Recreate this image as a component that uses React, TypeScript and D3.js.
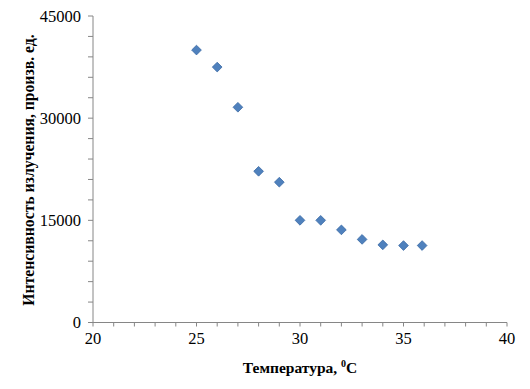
import React from "react";
import * as d3 from "d3";

const temps = [25, 26, 27, 28, 29, 30, 31, 32, 33, 34, 35, 35.9];
const intensity = [40000, 37500, 31600, 22200, 20600, 15000, 15000, 13600, 12200, 11400, 11300, 11300];
const xTicks = [20, 25, 30, 35, 40];
const yTicks = [0, 15000, 30000, 45000];
const xTitle = "Температура, ";
const yTitle = "Интенсивность излучения, произв. ед.";

const W = 530, H = 389;
const x = d3.scaleLinear().domain([20, 40]).range([93, 507]);
const y = d3.scaleLinear().domain([0, 45000]).range([322.5, 16]);
const FONT = '"Liberation Serif"';

export default function App() {
  const minorX = d3.range(20, 40.001, 1);
  const minorY = d3.range(0, 45001, 3000);
  const diamond = d3.symbol().type(d3.symbolDiamond2).size(60)();
  const axisColor = "#868686";
  const ts = { fontFamily: FONT };
  return (
    <svg width={W} height={H} style={{ position: "absolute", left: 0, top: 0, fontFamily: FONT }}>
      <rect width={W} height={H} fill="#fff" />
      <line x1={x(20)} x2={x(40)} y1={y(0)} y2={y(0)} stroke={axisColor} strokeWidth={1} />
      <line x1={x(20)} x2={x(20)} y1={y(0)} y2={y(45000)} stroke={axisColor} strokeWidth={1} />
      {minorX.map((t) => (
        <line key={"mx" + t} x1={x(t)} x2={x(t)} y1={y(0)} y2={y(0) + 4} stroke={axisColor} />
      ))}
      {minorY.map((t) => (
        <line key={"my" + t} x1={x(20) - 5} x2={x(20)} y1={y(t)} y2={y(t)} stroke={axisColor} />
      ))}
      {xTicks.map((t) => (
        <text key={"xt" + t} style={ts} x={x(t)} y={y(0) + 21} textAnchor="middle" fontSize={16.5} fill="#000">{t}</text>
      ))}
      {yTicks.map((t) => (
        <text key={"yt" + t} style={ts} x={x(20) - 12} y={y(t)} dy="0.35em" textAnchor="end" fontSize={16.5} fill="#000">{t}</text>
      ))}
      {temps.map((t, i) => (
        <path key={"p" + i} d={diamond as string} transform={`translate(${x(t)},${y(intensity[i])})`}
          fill="#4F81BD" stroke="#3A6AA5" strokeWidth={0.8} />
      ))}
      <text style={ts} x={300} y={373} textAnchor="middle" fontSize={15.5} fontWeight="bold" fill="#000">
        {xTitle}
        <tspan fontSize={10} dy={-6}>0</tspan>
        <tspan dy={6}>C</tspan>
      </text>
      <text style={ts} transform={`translate(34,170) rotate(-90)`} textAnchor="middle" fontSize={15.7} fontWeight="bold" fill="#000">
        {yTitle}
      </text>
    </svg>
  );
}
